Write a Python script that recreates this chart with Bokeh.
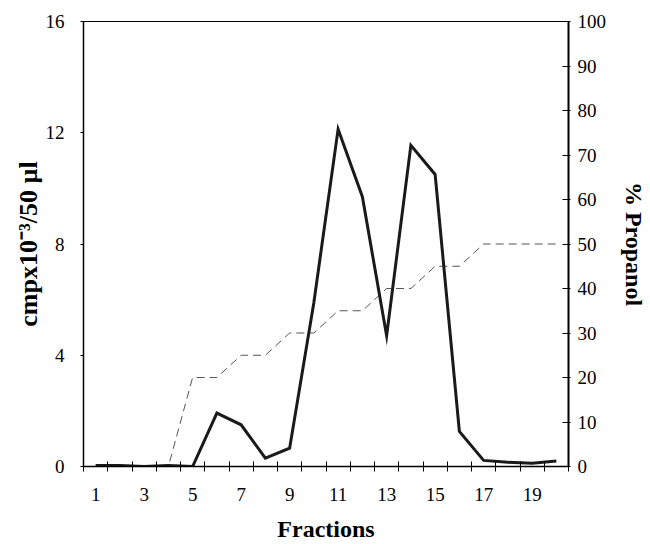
from bokeh.plotting import figure
from bokeh.models import Range1d, LinearAxis, FixedTicker
from bokeh.embed import file_html
from bokeh.resources import INLINE

# ---- data ----
fractions = list(range(1, 21))
cpm = [0.04, 0.04, 0.0, 0.04, 0.0, 1.92, 1.5, 0.3, 0.66, 5.9,
       12.13, 9.7, 4.7, 11.55, 10.5, 1.26, 0.22, 0.15, 0.12, 0.2]
propanol = [0, 0, 0, 0, 20, 20, 25, 25, 30, 30,
            35, 35, 40, 40, 45, 45, 50, 50, 50, 50]
x_tick_labels = [1, 3, 5, 7, 9, 11, 13, 15, 17, 19]
left_ticks = [0, 4, 8, 12, 16]
right_ticks = [0, 10, 20, 30, 40, 50, 60, 70, 80, 90, 100]

FONT = "Liberation Serif"

p = figure(width=650, height=544, output_backend="svg", toolbar_location=None,
           x_range=Range1d(0.5, 20.5), y_range=Range1d(0, 16),
           min_border_left=83, min_border_right=79, min_border_top=21,
           min_border_bottom=77)
p.extra_y_ranges = {"pct": Range1d(0, 100)}
p.xgrid.visible = False
p.ygrid.visible = False
p.outline_line_color = "black"
p.outline_line_width = 1
p.background_fill_color = "white"
p.border_fill_color = "white"

# bottom axis
xa = p.xaxis[0]
xa.ticker = FixedTicker(ticks=x_tick_labels,
                        minor_ticks=[f - 0.5 for f in fractions] + [fractions[-1] + 0.5])
xa.major_tick_in = 0
xa.major_tick_out = 0
xa.minor_tick_in = 5
xa.minor_tick_out = 5
xa.minor_tick_line_color = "black"
xa.axis_line_color = "black"
xa.axis_line_width = 1.5
xa.major_label_standoff = 16
xa.major_label_text_font = FONT
xa.major_label_text_font_size = "19px"
xa.major_label_text_color = "black"
xa.axis_label = "Fractions"
xa.axis_label_text_font = FONT
xa.axis_label_text_font_style = "bold"
xa.axis_label_text_font_size = "24px"
xa.axis_label_text_color = "black"
xa.axis_label_standoff = 12

# left axis
ya = p.yaxis[0]
ya.ticker = FixedTicker(ticks=left_ticks)
ya.minor_tick_line_color = None
ya.major_tick_in = 0
ya.major_tick_out = 3
ya.axis_line_color = "black"
ya.axis_line_width = 1.5
ya.major_label_standoff = 16
ya.major_label_text_font = FONT
ya.major_label_text_font_size = "19px"
ya.major_label_text_color = "black"
ya.axis_label = "cmpx10\u207b\u00b3/50 \u00b5l"
ya.axis_label_text_font = FONT
ya.axis_label_text_font_style = "bold"
ya.axis_label_text_font_size = "26px"
ya.axis_label_text_color = "black"
ya.axis_label_standoff = 0

# right axis
ra = LinearAxis(y_range_name="pct", ticker=FixedTicker(ticks=right_ticks))
ra.minor_tick_line_color = None
ra.major_tick_in = 6
ra.major_tick_out = 2
ra.axis_line_color = "black"
ra.axis_line_width = 2
ra.major_label_standoff = 7
ra.major_label_text_font = FONT
ra.major_label_text_font_size = "19px"
ra.major_label_text_color = "black"
ra.axis_label = "% Propanol"
ra.axis_label_text_font = FONT
ra.axis_label_text_font_style = "bold"
ra.axis_label_text_font_size = "24px"
ra.axis_label_text_color = "black"
ra.axis_label_standoff = 12
p.add_layout(ra, "right")

# data
p.line(fractions, propanol, y_range_name="pct", line_color="#555555",
       line_width=1, line_dash="8 5")
p.line(fractions, cpm, line_color="#1a1a1a", line_width=3, line_join="miter")

open("out.html", "w").write(file_html(p, INLINE))
